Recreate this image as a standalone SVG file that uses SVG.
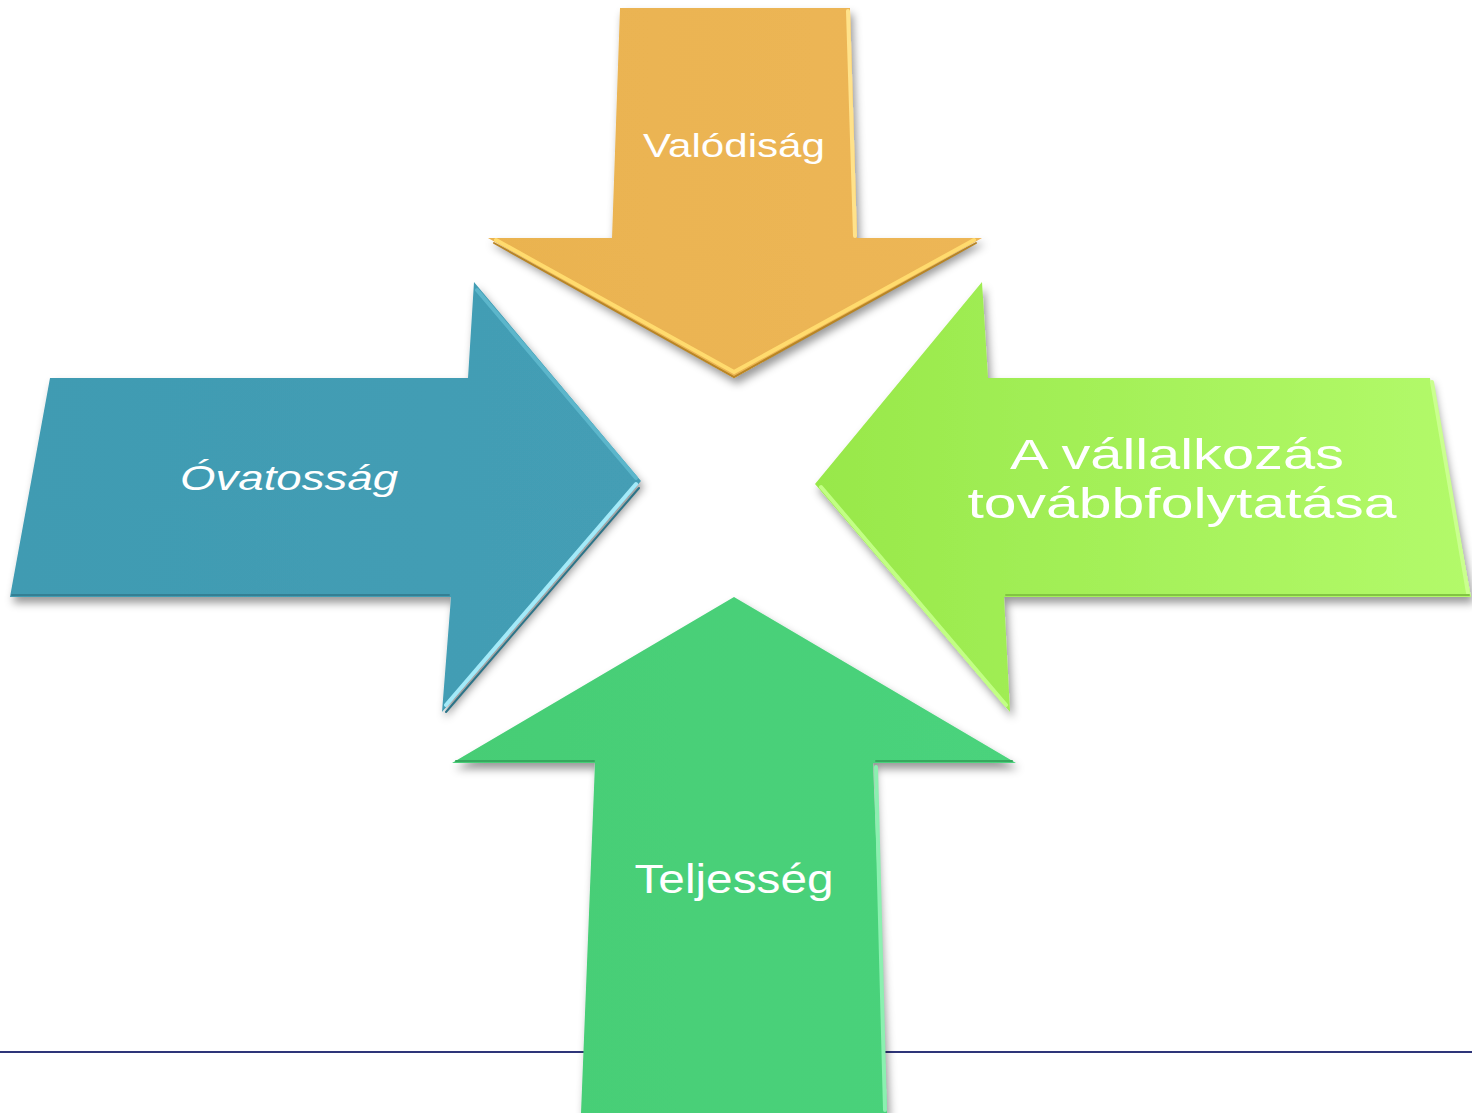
<svg xmlns="http://www.w3.org/2000/svg" width="1472" height="1113" viewBox="0 0 1472 1113">
  <defs>
    <filter id="sh" x="-10%" y="-10%" width="125%" height="125%">
      <feDropShadow dx="3" dy="6" stdDeviation="4" flood-color="#000" flood-opacity="0.4"/>
    </filter>
    <linearGradient id="gOrange" x1="0" y1="0" x2="1" y2="0">
      <stop offset="0" stop-color="#EAB350"/>
      <stop offset="1" stop-color="#EDB656"/>
    </linearGradient>
    <linearGradient id="gBlue" x1="0" y1="0" x2="1" y2="0">
      <stop offset="0" stop-color="#409BB2"/>
      <stop offset="1" stop-color="#449EB5"/>
    </linearGradient>
    <linearGradient id="gLime" x1="0" y1="0" x2="1" y2="0">
      <stop offset="0" stop-color="#98E84A"/>
      <stop offset="1" stop-color="#B3FA6A"/>
    </linearGradient>
    <linearGradient id="gGreen" x1="0" y1="0" x2="1" y2="0">
      <stop offset="0" stop-color="#46CD75"/>
      <stop offset="1" stop-color="#4BD37C"/>
    </linearGradient>
    <style>
      .lbl { font-family: "Liberation Sans", Arial, sans-serif; fill: #ffffff; }
      .hl { fill: none; stroke-width: 4; stroke-linecap: round; }
      .dk { fill: none; stroke-width: 2; stroke-linecap: round; }
    </style>
  </defs>
  <rect width="1472" height="1113" fill="#ffffff"/>
  <g id="connectors">
    <line x1="0" y1="1052" x2="1472" y2="1052" stroke="#2E3579" stroke-width="2"/>
  </g>
  <g id="node-top">
    <polygon points="620,8 850,8 857,238 982,238 734,378 488,238 612,238" fill="url(#gOrange)" filter="url(#sh)"/>
    <polyline class="hl" points="848,11 855,236" stroke="#FFE28A"/>
    <polyline class="dk" points="494,243 734,377 976,243" stroke="#B98524"/>
    <polyline class="hl" points="496,240 734,372 974,240" stroke="#FFDB6E"/>
    <text class="lbl" x="734" y="157" font-size="33" text-anchor="middle" textLength="182" lengthAdjust="spacingAndGlyphs">Valódiság</text>
  </g>
  <g id="node-left">
    <polygon points="50,378 468,378 474,282 641,481 442,712 451,597 10,597" fill="url(#gBlue)" filter="url(#sh)"/>
    <polyline class="dk" points="639,488 446,712" stroke="#2C7488"/>
    <polyline class="hl" points="636,484 446,705" stroke="#A3EAF9"/>
    <polyline class="hl" points="477,290 636,478" stroke="#5CB6CB"/>
    <polyline class="dk" points="12,595 449,595" stroke="#347F93"/>
    <text class="lbl" x="289" y="490" font-size="35" font-style="italic" text-anchor="middle" textLength="218" lengthAdjust="spacingAndGlyphs">Óvatosság</text>
  </g>
  <g id="node-right">
    <polygon points="988,378 1430,378 1471,597 1004,597 1010,712 815,484 982,282" fill="url(#gLime)" filter="url(#sh)"/>
    <polyline class="hl" points="821,487 1006,705" stroke="#C2FF84"/>
    <polyline class="hl" points="1432,382 1468,593" stroke="#CAFF8E"/>
    <polyline class="dk" points="1006,595 1469,595" stroke="#82C443"/>
    <text class="lbl" x="1177" y="469" font-size="43" text-anchor="middle" textLength="334" lengthAdjust="spacingAndGlyphs">A vállalkozás</text>
    <text class="lbl" x="1182" y="518" font-size="43" text-anchor="middle" textLength="429" lengthAdjust="spacingAndGlyphs">továbbfolytatása</text>
  </g>
  <g id="node-bottom">
    <polygon points="734,597 1016,763 873,763 887,1113 581,1113 595,763 452,763" fill="url(#gGreen)" filter="url(#sh)"/>
    <polyline class="hl" points="876,767 885,1110" stroke="#8BF0B0"/>
    <polyline class="dk" points="456,761 594,761" stroke="#36A85E"/>
    <polyline class="dk" points="876,761 1012,761" stroke="#36A85E"/>
    <text class="lbl" x="734" y="893" font-size="41" text-anchor="middle" textLength="199" lengthAdjust="spacingAndGlyphs">Teljesség</text>
  </g>
</svg>
